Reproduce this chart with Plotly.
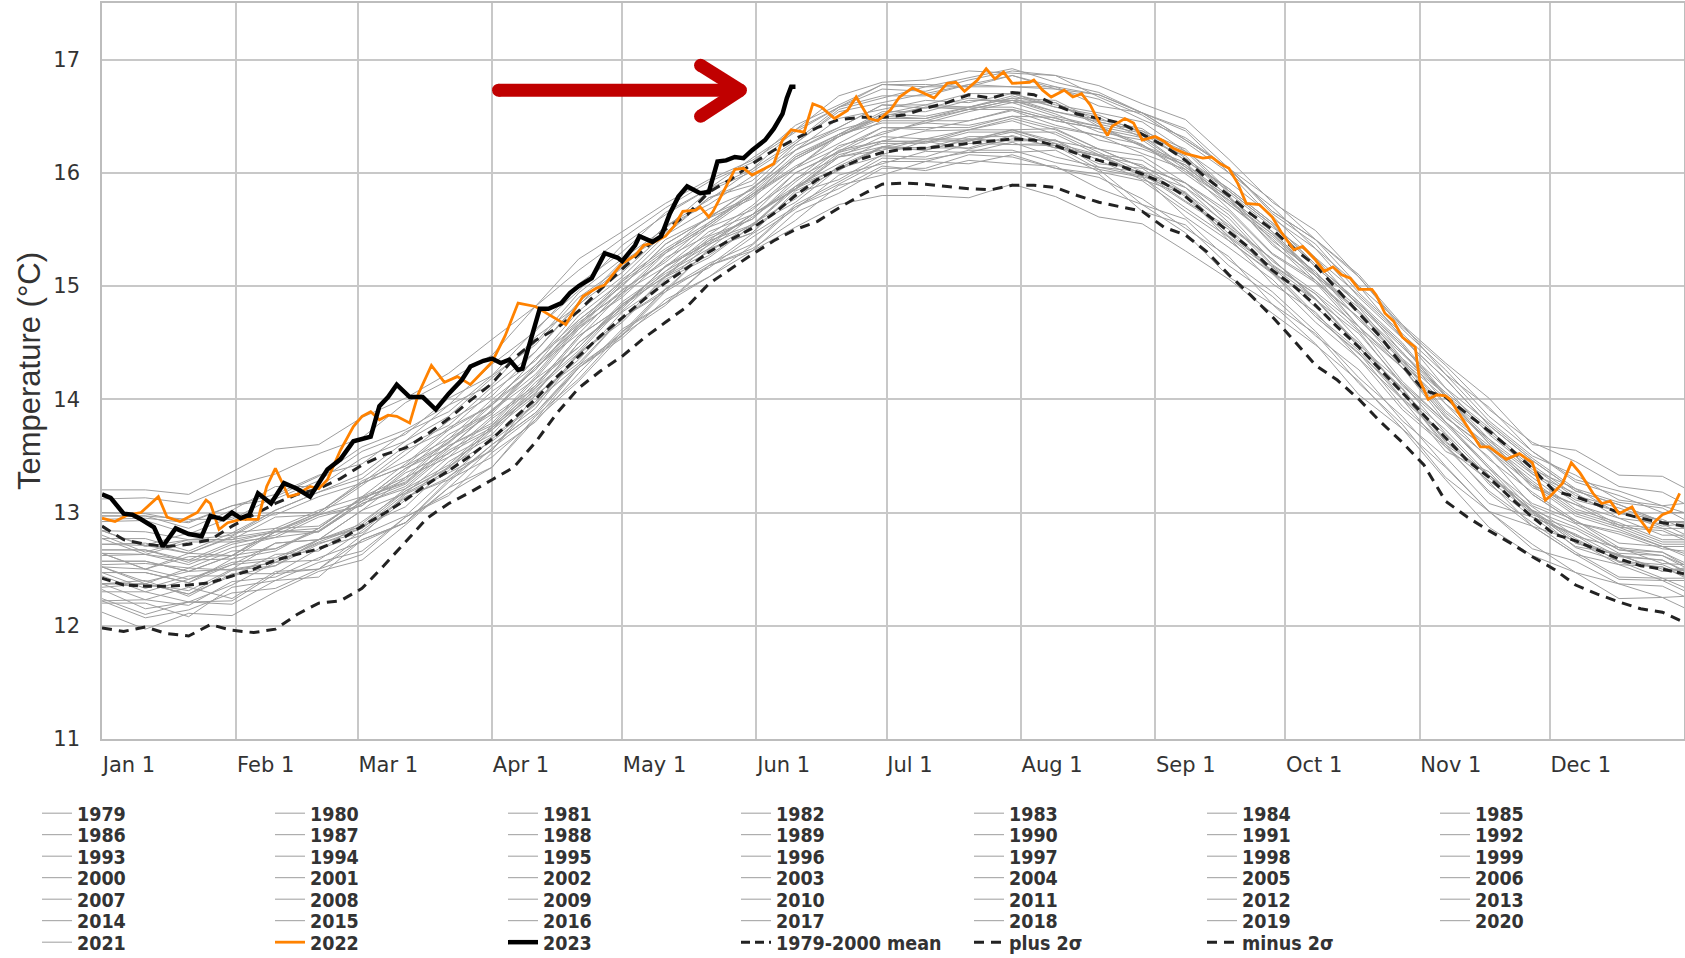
import plotly.graph_objects as go

# ---------------- data ----------------
MONTH_DAYS = [0, 31, 59, 90, 120, 151, 181, 212, 243, 273, 304, 334]
MONTH_LABELS = ["Jan 1", "Feb 1", "Mar 1", "Apr 1", "May 1", "Jun 1",
                "Jul 1", "Aug 1", "Sep 1", "Oct 1", "Nov 1", "Dec 1"]
Y_TICKS = [11, 12, 13, 14, 15, 16, 17]

# 10-day grid for the individual years 1979-2021
DAYS = [0, 10, 20, 30, 40, 50, 60, 70, 80, 90, 100, 110, 120, 130, 140, 150, 160, 170, 180,
        190, 200, 210, 220, 230, 240, 250, 260, 270, 280, 290, 300, 310, 320, 330, 340, 350, 360, 365]

Y1979 = [12.20,12.20,12.08,12.34,12.40,12.43,12.76,12.91,13.29,13.49,13.82,14.28,14.59,14.98,15.16,15.43,15.68,15.98,16.08,16.19,16.18,16.18,16.20,16.01,15.93,15.66,15.40,15.11,14.73,14.40,14.06,13.58,13.28,13.00,12.69,12.57,12.42,12.42]
Y1980 = [12.37,12.40,12.26,12.46,12.46,12.68,12.80,13.16,13.35,13.55,14.04,14.32,14.72,14.95,15.33,15.47,15.82,15.94,16.16,16.28,16.21,16.30,16.29,16.05,16.01,15.75,15.52,15.12,14.89,14.46,14.01,13.69,13.25,12.96,12.80,12.56,12.52,12.44]
Y1981 = [12.52,12.37,12.51,12.49,12.53,12.76,12.88,13.05,13.41,13.63,13.92,14.40,14.68,15.06,15.25,15.53,15.74,16.04,16.15,16.14,16.26,16.25,16.26,16.08,16.04,15.79,15.44,15.17,14.81,14.50,14.06,13.60,13.33,13.01,12.73,12.62,12.58,12.48]
Y1982 = [12.37,12.23,12.34,12.24,12.48,12.50,12.63,12.96,13.15,13.53,13.80,14.23,14.62,14.85,15.18,15.31,15.65,15.82,16.04,16.04,16.16,16.14,16.04,15.99,15.66,15.54,15.18,14.91,14.56,14.26,13.81,13.49,13.08,12.96,12.70,12.63,12.48,12.51]
Y1983 = [12.64,12.50,12.64,12.62,12.83,12.83,13.08,13.23,13.55,13.75,14.15,14.46,14.84,15.08,15.40,15.54,15.88,16.04,16.23,16.20,16.30,16.25,16.24,16.03,15.96,15.69,15.43,15.02,14.77,14.36,13.91,13.58,13.19,12.91,12.65,12.43,12.42,12.34]
Y1984 = [12.32,12.15,12.21,12.19,12.40,12.56,12.66,12.96,13.17,13.40,13.85,14.18,14.60,14.85,15.08,15.36,15.70,15.86,16.06,16.02,16.11,16.08,16.06,15.86,15.72,15.47,15.08,14.84,14.49,14.04,13.74,13.29,12.87,12.62,12.47,12.24,12.25,12.16]
Y1985 = [12.12,11.97,12.11,12.09,12.30,12.48,12.58,12.89,13.22,13.40,13.82,14.16,14.57,14.83,15.18,15.33,15.58,15.89,15.98,16.10,16.08,16.16,16.04,15.96,15.77,15.51,15.26,14.84,14.58,14.14,13.78,13.31,13.01,12.68,12.57,12.37,12.35,12.26]
Y1986 = [12.22,12.23,12.18,12.39,12.43,12.60,12.74,12.91,13.27,13.60,13.88,14.30,14.57,14.97,15.20,15.37,15.72,15.92,16.13,16.12,16.18,16.27,16.14,16.05,15.97,15.61,15.34,15.06,14.68,14.36,14.00,13.54,13.36,12.96,12.81,12.61,12.58,12.49]
Y1987 = [12.37,12.37,12.28,12.49,12.56,12.74,12.88,13.19,13.40,13.75,14.05,14.50,14.78,15.13,15.44,15.59,15.92,16.20,16.28,16.37,16.38,16.48,16.38,16.21,16.15,15.91,15.66,15.28,15.03,14.61,14.28,13.84,13.56,13.16,12.91,12.83,12.70,12.64]
Y1988 = [12.67,12.67,12.58,12.74,12.78,12.96,13.06,13.35,13.52,13.85,14.12,14.56,14.82,15.17,15.38,15.63,15.85,16.14,16.20,16.30,16.30,16.28,16.29,16.11,15.94,15.81,15.40,15.12,14.73,14.41,13.94,13.60,13.17,12.88,12.63,12.41,12.40,12.31]
Y1989 = [12.24,12.10,12.21,12.22,12.46,12.50,12.80,12.97,13.32,13.55,13.98,14.30,14.72,14.97,15.32,15.47,15.84,16.02,16.23,16.22,16.22,16.33,16.22,16.15,15.99,15.74,15.50,15.11,14.88,14.46,14.09,13.62,13.33,13.02,12.75,12.63,12.48,12.49]
Y1990 = [12.47,12.47,12.38,12.59,12.66,12.86,13.13,13.26,13.59,13.77,14.18,14.46,14.86,15.13,15.36,15.63,15.88,16.18,16.28,16.27,16.38,16.38,16.39,16.21,16.05,15.91,15.63,15.22,14.95,14.64,14.16,13.80,13.39,13.08,12.93,12.69,12.65,12.54]
Y1991 = [12.52,12.39,12.48,12.50,12.73,12.76,12.90,13.21,13.42,13.77,14.08,14.41,14.82,15.09,15.42,15.59,15.95,16.14,16.23,16.30,16.28,16.36,16.24,16.15,15.97,15.82,15.43,15.14,14.75,14.43,14.00,13.66,13.27,12.88,12.75,12.54,12.52,12.43]
Y1992 = [12.52,12.50,12.41,12.56,12.60,12.76,12.86,13.14,13.29,13.60,13.88,14.28,14.54,14.88,15.08,15.31,15.52,15.72,15.80,15.80,15.78,15.90,15.79,15.61,15.55,15.31,15.06,14.76,14.48,14.16,13.74,13.40,13.01,12.72,12.47,12.37,12.25,12.26]
Y1993 = [12.22,12.07,12.14,12.29,12.33,12.50,12.76,12.91,13.22,13.57,13.86,14.28,14.56,14.95,15.18,15.46,15.70,15.90,16.10,16.10,16.20,16.20,16.09,16.03,15.72,15.59,15.23,14.95,14.60,14.19,13.85,13.41,13.01,12.88,12.63,12.54,12.40,12.40]
Y1994 = [12.34,12.37,12.31,12.50,12.56,12.73,12.82,13.11,13.45,13.67,13.96,14.41,14.70,15.09,15.30,15.55,15.77,16.06,16.23,16.22,16.32,16.32,16.22,16.15,16.07,15.82,15.54,15.24,14.88,14.58,14.14,13.80,13.41,13.02,12.87,12.67,12.65,12.56]
Y1995 = [12.57,12.57,12.48,12.62,12.83,12.83,13.08,13.21,13.53,13.73,14.12,14.56,14.82,15.17,15.38,15.63,15.86,16.14,16.32,16.30,16.38,16.46,16.34,16.16,16.11,15.87,15.52,15.24,14.89,14.48,14.14,13.70,13.31,13.02,12.77,12.57,12.54,12.46]
Y1996 = [12.30,12.30,12.21,12.36,12.56,12.58,12.84,13.13,13.31,13.65,13.95,14.41,14.70,15.08,15.27,15.53,15.86,16.04,16.22,16.20,16.29,16.38,16.26,16.16,15.99,15.83,15.46,15.17,14.89,14.46,14.10,13.63,13.33,13.01,12.73,12.62,12.50,12.50]
Y1997 = [12.37,12.37,12.28,12.44,12.63,12.66,12.92,13.19,13.39,13.75,14.06,14.50,14.80,15.18,15.40,15.69,15.94,16.24,16.34,16.46,16.46,16.56,16.46,16.39,16.24,16.09,15.74,15.46,15.11,14.81,14.36,14.04,13.65,13.36,13.11,13.01,12.88,12.90]
Y1998 = [12.97,12.97,12.86,13.02,13.23,13.23,13.48,13.63,13.95,14.13,14.55,14.83,15.22,15.45,15.78,15.89,16.24,16.40,16.60,16.57,16.66,16.62,16.62,16.41,16.33,16.05,15.78,15.36,15.09,14.64,14.28,13.80,13.49,13.06,12.90,12.67,12.62,12.52]
Y1999 = [12.47,12.33,12.44,12.44,12.53,12.72,12.86,13.17,13.37,13.73,14.03,14.35,14.77,15.03,15.37,15.53,15.88,16.08,16.28,16.28,16.28,16.38,16.28,16.21,16.05,15.91,15.56,15.18,14.93,14.52,14.06,13.73,13.33,13.05,12.79,12.69,12.55,12.54]
Y2000 = [12.44,12.30,12.41,12.54,12.58,12.76,13.02,13.17,13.49,13.69,14.10,14.43,14.84,15.11,15.33,15.61,15.86,16.16,16.26,16.26,16.36,16.36,16.36,16.18,16.01,15.87,15.60,15.19,14.93,14.60,14.12,13.78,13.39,12.98,12.85,12.64,12.62,12.54]
Y2001 = [12.54,12.55,12.51,12.66,12.68,12.86,13.13,13.27,13.59,13.79,14.20,14.64,14.90,15.25,15.45,15.71,16.04,16.22,16.40,16.38,16.46,16.55,16.42,16.33,16.25,15.99,15.72,15.42,15.05,14.72,14.36,13.90,13.59,13.28,13.01,12.89,12.74,12.74]
Y2002 = [12.72,12.73,12.64,12.79,13.00,13.00,13.26,13.41,13.62,13.97,14.26,14.68,14.94,15.31,15.54,15.81,16.06,16.26,16.46,16.46,16.56,16.56,16.46,16.39,16.31,16.05,15.78,15.48,15.11,14.78,14.42,13.96,13.65,13.24,13.07,12.95,12.80,12.80]
Y2003 = [12.80,12.65,12.76,12.76,12.83,12.98,13.10,13.39,13.57,13.91,14.22,14.66,14.96,15.23,15.56,15.81,16.04,16.32,16.50,16.48,16.56,16.64,16.52,16.36,16.29,16.03,15.76,15.46,15.09,14.76,14.40,14.04,13.61,13.31,13.03,12.91,12.76,12.76]
Y2004 = [12.67,12.67,12.56,12.72,12.80,12.98,13.06,13.37,13.69,13.89,14.28,14.58,14.97,15.21,15.52,15.67,16.00,16.18,16.36,16.44,16.42,16.50,16.49,16.29,16.21,16.07,15.72,15.44,15.09,14.78,14.34,14.01,13.61,13.22,13.07,12.87,12.84,12.76]
Y2005 = [12.77,12.63,12.74,12.74,12.83,13.00,13.28,13.45,13.65,14.00,14.30,14.74,15.04,15.41,15.60,15.86,16.20,16.38,16.48,16.58,16.58,16.68,16.58,16.51,16.35,16.11,15.86,15.56,15.19,14.86,14.41,14.06,13.75,13.34,13.17,12.95,12.90,12.81]
Y2006 = [12.62,12.63,12.58,12.59,12.83,12.86,13.14,13.31,13.65,13.89,14.30,14.64,15.04,15.31,15.54,15.81,16.14,16.32,16.50,16.58,16.56,16.64,16.62,16.43,16.35,16.19,15.82,15.52,15.25,14.82,14.46,14.10,13.69,13.38,13.21,12.99,12.94,12.86]
Y2007 = [12.92,12.93,12.81,12.96,12.98,13.14,13.26,13.55,13.73,13.95,14.36,14.70,15.00,15.37,15.60,15.77,16.12,16.32,16.48,16.48,16.58,16.58,16.48,16.41,16.25,16.01,15.76,15.38,15.03,14.72,14.28,13.84,13.55,13.16,12.91,12.81,12.68,12.66]
Y2008 = [12.47,12.47,12.38,12.54,12.73,12.76,13.02,13.31,13.49,13.83,14.10,14.54,14.94,15.17,15.48,15.63,16.00,16.19,16.40,16.40,16.40,16.50,16.40,16.33,16.17,16.03,15.68,15.29,15.05,14.64,14.31,13.86,13.47,13.18,12.93,12.73,12.70,12.62]
Y2009 = [12.64,12.50,12.61,12.62,12.86,12.88,13.12,13.29,13.63,13.87,14.28,14.62,15.02,15.29,15.62,15.79,16.14,16.34,16.54,16.54,16.64,16.64,16.54,16.47,16.39,16.13,15.86,15.56,15.19,14.86,14.50,14.04,13.73,13.42,13.15,13.04,12.92,12.92]
Y2010 = [12.94,12.95,12.91,13.06,13.16,13.33,13.43,13.71,13.89,14.21,14.48,14.90,15.17,15.53,15.72,15.97,16.20,16.48,16.56,16.64,16.62,16.70,16.58,16.49,16.31,16.15,15.78,15.48,15.11,14.78,14.32,13.96,13.55,13.24,12.97,12.85,12.70,12.70]
Y2011 = [12.57,12.57,12.48,12.62,12.68,12.84,13.10,13.25,13.57,13.90,14.18,14.62,14.92,15.29,15.52,15.79,16.04,16.34,16.44,16.44,16.54,16.62,16.50,16.41,16.23,16.07,15.80,15.40,15.13,14.70,14.34,13.88,13.57,13.26,12.99,12.87,12.72,12.72]
Y2012 = [12.64,12.63,12.54,12.69,12.78,12.83,13.10,13.39,13.61,13.95,14.26,14.70,15.00,15.37,15.60,15.87,16.12,16.32,16.52,16.60,16.58,16.66,16.64,16.45,16.37,16.21,15.84,15.54,15.17,14.84,14.48,14.02,13.63,13.34,13.09,12.89,12.86,12.78]
Y2013 = [12.77,12.77,12.66,12.82,12.86,13.02,13.14,13.43,13.75,13.95,14.36,14.66,15.06,15.33,15.56,15.83,16.16,16.34,16.52,16.50,16.58,16.66,16.54,16.45,16.37,16.11,15.84,15.54,15.17,14.84,14.48,14.02,13.71,13.40,13.13,13.01,12.86,12.86]
Y2014 = [12.72,12.71,12.64,12.78,12.84,13.00,13.26,13.41,13.73,14.07,14.34,14.78,15.08,15.45,15.68,15.85,16.20,16.40,16.60,16.60,16.70,16.70,16.60,16.53,16.45,16.19,15.92,15.62,15.25,14.92,14.56,14.10,13.79,13.48,13.21,13.09,13.04,12.94]
Y2015 = [12.84,12.71,12.82,12.82,13.02,13.18,13.30,13.59,13.77,14.11,14.42,14.86,15.16,15.53,15.76,16.03,16.28,16.58,16.68,16.68,16.78,16.86,16.74,16.69,16.53,16.39,16.04,15.76,15.41,15.10,14.66,14.32,14.01,13.60,13.55,13.33,13.32,13.22]
Y2016 = [13.20,13.20,13.16,13.36,13.56,13.60,13.84,14.01,14.23,14.53,14.82,15.24,15.48,15.73,15.94,16.11,16.36,16.58,16.74,16.72,16.82,16.90,16.86,16.67,16.51,16.27,16.00,15.60,15.33,14.90,14.54,14.18,13.77,13.46,13.19,13.07,12.92,12.91]
Y2017 = [12.97,12.97,12.94,12.94,13.14,13.32,13.58,13.73,13.95,14.31,14.60,15.02,15.30,15.65,15.86,16.03,16.38,16.58,16.78,16.78,16.76,16.86,16.76,16.69,16.53,16.29,16.04,15.66,15.41,15.08,14.62,14.26,13.85,13.54,13.27,13.15,13.00,13.00]
Y2018 = [12.84,12.83,12.76,12.80,13.02,13.18,13.34,13.63,13.85,14.19,14.50,14.94,15.24,15.51,15.84,16.01,16.26,16.56,16.66,16.76,16.76,16.76,16.76,16.59,16.53,16.29,16.04,15.66,15.41,15.00,14.66,14.22,13.93,13.54,13.29,13.19,13.06,13.08]
Y2019 = [13.00,12.99,12.92,13.06,13.12,13.28,13.54,13.69,14.01,14.21,14.62,14.96,15.36,15.63,15.86,16.13,16.38,16.68,16.80,16.82,16.90,16.88,16.86,16.77,16.61,16.47,16.12,15.74,15.49,15.08,14.64,14.30,13.91,13.62,13.45,13.23,13.18,13.08]
Y2020 = [13.12,13.13,13.08,13.24,13.34,13.52,13.66,13.97,14.17,14.39,14.82,15.14,15.42,15.69,15.92,16.09,16.42,16.60,16.78,16.76,16.84,16.92,16.80,16.71,16.53,16.37,16.00,15.70,15.33,15.00,14.54,14.18,13.77,13.46,13.19,13.07,12.92,12.92]
Y2021 = [12.84,12.70,12.76,12.76,12.96,12.98,13.24,13.51,13.81,14.03,14.42,14.84,15.12,15.47,15.78,15.93,16.26,16.54,16.62,16.70,16.78,16.76,16.74,16.65,16.47,16.31,16.04,15.64,15.37,14.94,14.58,14.22,13.81,13.50,13.33,13.11,13.06,13.00]

# 1979-2000 climatology and +/- 2 sigma, 5-day grid
STAT_DAYS = [0, 5, 10, 15, 20, 25, 30, 35, 40, 45, 50, 55, 60, 65, 70, 75, 80, 85, 90, 95,
             100, 105, 110, 115, 120, 125, 130, 135, 140, 145, 150, 155, 160, 165, 170, 175, 180, 185, 190, 195,
             200, 205, 210, 215, 220, 225, 230, 235, 240, 245, 250, 255, 260, 265, 270, 275, 280, 285, 290, 295,
             300, 305, 310, 315, 320, 325, 330, 335, 340, 345, 350, 355, 360, 365]
MEAN = [12.42,12.36,12.35,12.35,12.36,12.38,12.44,12.50,12.58,12.63,
        12.68,12.76,12.88,12.99,13.11,13.25,13.37,13.50,13.65,13.83,
        14.00,14.20,14.38,14.56,14.72,14.88,15.03,15.16,15.30,15.41,
        15.51,15.64,15.80,15.94,16.04,16.12,16.18,16.21,16.22,16.24,
        16.26,16.28,16.30,16.29,16.24,16.17,16.11,16.06,15.99,15.91,
        15.79,15.63,15.48,15.33,15.14,15.00,14.83,14.64,14.46,14.26,
        14.06,13.86,13.66,13.46,13.31,13.13,12.96,12.81,12.75,12.67,
        12.59,12.53,12.50,12.46]
PLUS2 = [12.88,12.76,12.72,12.70,12.72,12.76,12.88,12.98,13.08,13.16,
         13.21,13.30,13.42,13.51,13.57,13.69,13.83,13.99,14.14,14.36,
         14.52,14.63,14.78,14.97,15.15,15.32,15.50,15.63,15.83,15.94,
         16.08,16.20,16.30,16.40,16.47,16.49,16.49,16.51,16.57,16.62,
         16.69,16.66,16.71,16.69,16.60,16.52,16.48,16.44,16.34,16.24,
         16.11,15.95,15.80,15.64,15.50,15.33,15.18,14.97,14.76,14.55,
         14.30,14.08,14.02,13.87,13.72,13.56,13.39,13.19,13.14,13.07,
         13.00,12.95,12.91,12.88]
MINUS2 = [11.98,11.95,11.99,11.93,11.91,12.01,11.96,11.94,11.97,12.10,
          12.20,12.22,12.33,12.53,12.74,12.95,13.08,13.18,13.29,13.40,
          13.62,13.88,14.10,14.25,14.38,14.54,14.68,14.82,15.02,15.15,
          15.28,15.40,15.50,15.57,15.69,15.80,15.90,15.91,15.90,15.88,
          15.86,15.85,15.89,15.89,15.87,15.80,15.74,15.70,15.66,15.52,
          15.45,15.30,15.10,14.92,14.73,14.52,14.30,14.17,14.00,13.80,
          13.62,13.42,13.10,12.96,12.84,12.73,12.61,12.50,12.36,12.28,
          12.21,12.15,12.12,12.03]

DAY_2022 = [0,3,6,9,13,15,18,20,22,24,25,27,29,32,36,38,40,42,43,45,48,50,52,55,58,60,62,64,66,68,71,73,76,79,82,85,88,90,93,96,
            100,104,107,109,111,114,116,118,120,123,125,127,130,132,134,137,138,140,141,144,146,148,150,153,155,157,159,162,164,166,
            169,172,174,177,179,182,184,187,192,195,197,199,202,204,206,208,210,214,215,217,219,222,224,226,228,230,232,233,236,238,
            240,243,245,247,250,254,256,258,260,262,264,267,270,272,275,277,280,282,284,286,288,290,293,294,296,298,300,303,304,306,
            308,310,311,313,316,318,320,324,327,330,333,334,337,339,341,344,346,348,350,353,354,357,358,360,362,364]
T_2022 = [12.95,12.92,12.98,13.00,13.14,12.96,12.92,12.96,13.00,13.11,13.08,12.85,12.91,12.94,12.94,13.23,13.39,13.23,13.14,13.16,
          13.23,13.21,13.29,13.55,13.76,13.85,13.89,13.82,13.86,13.85,13.79,14.05,14.30,14.15,14.20,14.13,14.25,14.33,14.56,14.85,
          14.82,14.73,14.66,14.79,14.91,14.98,15.01,15.11,15.20,15.27,15.36,15.38,15.44,15.53,15.66,15.67,15.70,15.61,15.66,15.88,
          16.03,16.04,15.98,16.04,16.08,16.29,16.38,16.36,16.61,16.58,16.48,16.55,16.67,16.48,16.46,16.56,16.67,16.75,16.66,16.79,
          16.80,16.72,16.82,16.92,16.83,16.89,16.79,16.80,16.82,16.73,16.67,16.73,16.67,16.70,16.60,16.45,16.33,16.41,16.48,16.44,
          16.29,16.32,16.28,16.22,16.17,16.13,16.14,16.08,16.04,15.91,15.73,15.72,15.61,15.48,15.32,15.35,15.23,15.13,15.17,15.10,
          15.07,14.97,14.97,14.92,14.76,14.69,14.55,14.46,14.17,14.00,14.04,14.03,14.00,13.88,13.70,13.58,13.58,13.47,13.52,13.44,
          13.11,13.14,13.26,13.44,13.35,13.17,13.08,13.10,12.99,13.05,12.98,12.83,12.91,12.98,13.01,13.17]

DAY_2023 = [0,2,5,7,9,12,14,17,20,23,25,28,30,32,34,36,39,42,45,48,52,55,58,62,64,66,68,71,74,77,80,83,85,88,90,92,94,96,97,99,
            101,103,106,108,110,113,116,119,120,123,124,127,129,131,133,135,138,140,142,144,146,148,150,153,155,157,158,159,160]
T_2023 = [13.16,13.13,12.99,12.98,12.94,12.87,12.70,12.86,12.81,12.79,12.97,12.94,13.00,12.95,12.98,13.17,13.08,13.26,13.21,13.14,
          13.38,13.47,13.63,13.67,13.94,14.02,14.13,14.02,14.02,13.91,14.05,14.17,14.29,14.34,14.36,14.32,14.35,14.26,14.27,14.52,
          14.80,14.80,14.85,14.94,15.00,15.07,15.29,15.25,15.22,15.36,15.44,15.39,15.44,15.64,15.79,15.88,15.82,15.83,16.10,16.11,
          16.14,16.13,16.20,16.29,16.39,16.52,16.66,16.76,16.76]

GRAY_YEARS = {1979: Y1979, 1980: Y1980, 1981: Y1981, 1982: Y1982, 1983: Y1983, 1984: Y1984, 1985: Y1985,
              1986: Y1986, 1987: Y1987, 1988: Y1988, 1989: Y1989, 1990: Y1990, 1991: Y1991, 1992: Y1992,
              1993: Y1993, 1994: Y1994, 1995: Y1995, 1996: Y1996, 1997: Y1997, 1998: Y1998, 1999: Y1999,
              2000: Y2000, 2001: Y2001, 2002: Y2002, 2003: Y2003, 2004: Y2004, 2005: Y2005, 2006: Y2006,
              2007: Y2007, 2008: Y2008, 2009: Y2009, 2010: Y2010, 2011: Y2011, 2012: Y2012, 2013: Y2013,
              2014: Y2014, 2015: Y2015, 2016: Y2016, 2017: Y2017, 2018: Y2018, 2019: Y2019, 2020: Y2020,
              2021: Y2021}

# arrow annotation (data coordinates: day, degC)
ARROW_TAIL = (91.5, 16.73)
ARROW_TIP = (147.3, 16.73)
ARROW_ARM_UP = (138.1, 16.95)
ARROW_ARM_DN = (138.1, 16.50)

# ---------------- style ----------------
W, H = 1685, 958
M_L, M_R, M_T, M_B = 102, 1, 3, 219
PLOT_W, PLOT_H = W - M_L - M_R, H - M_T - M_B
GRAY = "#9e9e9e"
ORANGE = "#ff8200"
DARK = "#222222"
RED = "#c00000"
GRID = "#c8c8c8"
TXT = "#333333"
LEG_FONT = dict(family="DejaVu Sans Condensed, DejaVu Sans", size=19.5, color=TXT, weight="bold")
ROW_TEXT_CENTERS = [813.5, 835.0, 856.5, 878.0, 899.5, 921.0, 942.5]   # px from top
LEG_LEFT_PX = 37
N_COLS = 7


def legend_key(k):
    r = k // N_COLS
    return "legend" if r == 0 else f"legend{r + 1}"


fig = go.Figure()

k = 0
for year, vals in GRAY_YEARS.items():
    fig.add_trace(go.Scatter(x=DAYS, y=vals, mode="lines", name=str(year),
                             line=dict(color=GRAY, width=1),
                             legend=legend_key(k), legendrank=k + 1))
    k += 1
rank_2022, rank_2023 = k, k + 1
stats = [("1979-2000 mean", MEAN, "9px,5px"), ("plus 2σ", PLUS2, "10px,7px"), ("minus 2σ", MINUS2, "10px,7px")]
for j, (nm, vals, dash) in enumerate(stats):
    rk = k + 2 + j
    fig.add_trace(go.Scatter(x=STAT_DAYS, y=vals, mode="lines", name=nm,
                             line=dict(color=DARK, width=3, dash=dash),
                             legend=legend_key(rk), legendrank=rk + 1))
fig.add_trace(go.Scatter(x=DAY_2022, y=T_2022, mode="lines", name="2022",
                         line=dict(color=ORANGE, width=2.8),
                         legend=legend_key(rank_2022), legendrank=rank_2022 + 1))
fig.add_trace(go.Scatter(x=DAY_2023, y=T_2023, mode="lines", name="2023",
                         line=dict(color="#000000", width=4.5),
                         legend=legend_key(rank_2023), legendrank=rank_2023 + 1))

# red arrow
shapes = []
for (p0, p1) in [(ARROW_TAIL, ARROW_TIP), (ARROW_ARM_UP, ARROW_TIP), (ARROW_ARM_DN, ARROW_TIP)]:
    shapes.append(dict(type="line", xref="x", yref="y", x0=p0[0], y0=p0[1], x1=p1[0], y1=p1[1],
                       line=dict(color=RED, width=13)))
for p in [ARROW_TAIL, ARROW_TIP, ARROW_ARM_UP, ARROW_ARM_DN]:
    shapes.append(dict(type="circle", xref="x", yref="y", xsizemode="pixel", ysizemode="pixel",
                       xanchor=p[0], yanchor=p[1], x0=-6.5, x1=6.5, y0=-6.5, y1=6.5,
                       fillcolor=RED, line=dict(width=0)))

layout = dict(
    width=W, height=H,
    margin=dict(l=M_L, r=M_R, t=M_T, b=M_B, autoexpand=False),
    paper_bgcolor="white", plot_bgcolor="white",
    showlegend=True,
    shapes=shapes,
    xaxis=dict(range=[0, 365], tickmode="array", tickvals=MONTH_DAYS, ticktext=MONTH_LABELS,
               showgrid=True, gridcolor=GRID, gridwidth=1.5, zeroline=False,
               showline=True, mirror=True, linecolor="#bdbdbd", linewidth=1.5,
               ticks="", ticklabelposition="outside right", ticklabelstandoff=6,
               tickfont=dict(family="DejaVu Sans", size=21, color=TXT)),
    yaxis=dict(range=[11, 17.5], tickmode="array", tickvals=Y_TICKS,
               showgrid=True, gridcolor=GRID, gridwidth=1.5, zeroline=False,
               showline=True, mirror=True, linecolor="#bdbdbd", linewidth=1.5,
               ticks="", ticklabelstandoff=16,
               tickfont=dict(family="DejaVu Sans", size=21, color=TXT),
               title=dict(text="Temperature (°C)", standoff=3,
                          font=dict(family="Liberation Sans, Arial", size=31, color=TXT))),
)
for r in range(7):
    key = "legend" if r == 0 else f"legend{r + 1}"
    layout[key] = dict(orientation="h", xref="paper", yref="paper",
                       x=(LEG_LEFT_PX - M_L) / PLOT_W, xanchor="left",
                       y=(H - M_B - ROW_TEXT_CENTERS[r]) / PLOT_H, yanchor="middle",
                       entrywidth=188, entrywidthmode="pixels", font=LEG_FONT,
                       bgcolor="rgba(0,0,0,0)", borderwidth=0, itemwidth=30,
                       traceorder="normal")
fig.update_layout(**layout)

fig.write_html("out.html", config={"displayModeBar": False},
               post_script="document.body.style.margin='0px';")
